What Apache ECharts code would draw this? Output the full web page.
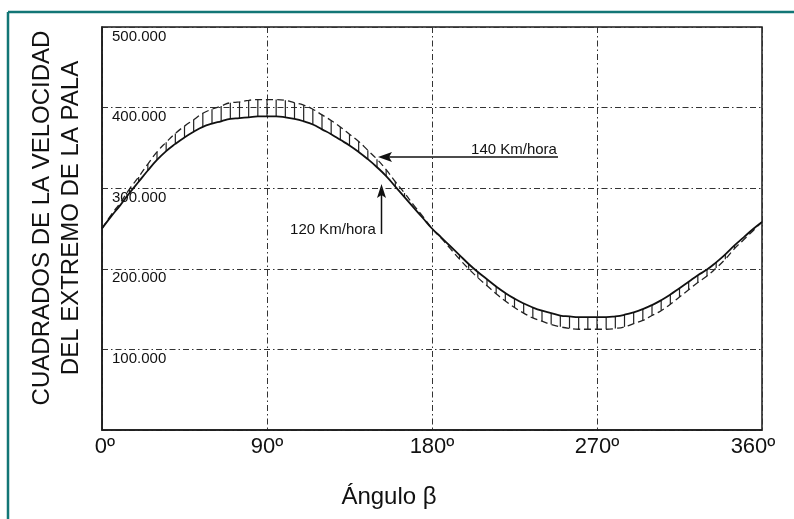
<!DOCTYPE html>
<html>
<head>
<meta charset="utf-8">
<script src="https://cdn.jsdelivr.net/npm/echarts@6/dist/echarts.min.js"></script>
<style>
html,body{margin:0;padding:0;background:#fff;}
#c{width:794px;height:519px;}
</style>
</head>
<body>
<div id="c"></div>
<script>
// Angle beta (degrees)
var angles = [0,5,10,15,20,25,30,35,40,45,50,55,60,65,70,75,80,85,90,
  95,100,105,110,115,120,125,130,135,140,145,150,155,160,165,170,175,180,
  185,190,195,200,205,210,215,220,225,230,235,240,245,250,255,260,265,270,
  275,280,285,290,295,300,305,310,315,320,325,330,335,340,345,350,355,360];
// Squared tip velocity (thousands), 120 Km/hora (solid)
var v120 = [250,265,279,294,308,322,335,346,355,363,370,376,380,383,386,387,388,389,389,
  389,388,386,383,379,373,367,360,353,345,336,326,315,302,289,276,263,250,
  239,228,217,206,196,187,178,170,163,157,152,148,145,142,141,140,140,140,
  140,141,143,146,150,155,161,168,176,184,192,199,208,218,229,239,249,258];
// Squared tip velocity (thousands), 140 Km/hora (dashed, hatched)
var v140 = [250,267,282,299,314,330,345,357,368,377,385,393,398,402,406,407,409,410,410,
  410,409,406,403,398,391,384,376,367,358,347,336,323,308,294,279,265,250,
  238,225,212,200,189,179,169,160,152,145,139,135,131,128,126,125,125,125,
  125,126,128,132,136,142,148,156,165,174,183,191,201,212,225,236,247,258];
var xTicks = [0,90,180,270,360];
var yTicks = [100,200,300,400,500];
var yTitle = ['CUADRADOS DE LA VELOCIDAD','DEL EXTREMO DE LA PALA'];
var xTitle = 'Ángulo β';
var label140 = '140 Km/hora';
var label120 = '120 Km/hora';

var s120 = angles.map(function(a,i){return [a, v120[i]];});
var s140 = angles.map(function(a,i){return [a, v140[i]];});
var hatch = [];
angles.forEach(function(a,i){ if (Math.abs(v140[i]-v120[i]) >= 4) hatch.push([a, v140[i], v120[i]]); });

var chart = echarts.init(document.getElementById('c'), null, {renderer:'canvas'});
var FONT = 'Liberation Sans, Arial, sans-serif';
var gridLine = {show:true, lineStyle:{color:'#333', width:1, type:[6,3,1.5,3]}};
chart.setOption({
  animation:false,
  backgroundColor:'#fff',
  grid:{left:102, top:27, right:32, bottom:89, show:true, borderColor:'#1a1a1a', borderWidth:1.5, backgroundColor:'transparent'},
  xAxis:{
    type:'value', min:0, max:360, interval:90,
    axisLine:{show:true, lineStyle:{color:'#1a1a1a', width:1.5}},
    axisTick:{show:false},
    splitLine:gridLine,
    axisLabel:{
      margin:6, fontFamily:FONT, fontSize:22, color:'#111',
      formatter:function(v){ return v===360 ? '{r|'+v+'º}' : (v===0 ? '{l|'+v+'º}' : v+'º'); },
      rich:{r:{fontFamily:FONT, fontSize:22, color:'#111', padding:[0,18,0,0]},
            l:{fontFamily:FONT, fontSize:22, color:'#111', padding:[0,0,0,6]}}
    }
  },
  yAxis:{
    type:'value', min:0, max:500, interval:100,
    axisLine:{show:true, lineStyle:{color:'#1a1a1a', width:1.5}},
    axisTick:{show:false},
    splitLine:gridLine,
    axisLabel:{
      inside:true, margin:10, fontFamily:FONT, fontSize:15, color:'#111',
      verticalAlign:'top', padding:[2,0,0,0],
      formatter:function(v){ return yTicks.indexOf(v)>=0 ? v+'.000' : ''; }
    }
  },
  series:[
    {type:'custom', renderItem:function(params, api){
        var p1 = api.coord([api.value(0), api.value(1)]);
        var p2 = api.coord([api.value(0), api.value(2)]);
        return {type:'line', shape:{x1:p1[0], y1:p1[1], x2:p2[0], y2:p2[1]},
          style:{stroke:'#222', lineWidth:1.2}};
      }, data:hatch, z:3, silent:true},
    {type:'line', data:s140, smooth:true, symbol:'none',
      lineStyle:{color:'#222', width:1.3, type:[7,4]}, z:4},
    {type:'line', data:s120, smooth:true, symbol:'none',
      lineStyle:{color:'#111', width:1.8}, z:5}
  ],
  graphic:[
    {type:'line', shape:{x1:8, y1:12, x2:794, y2:12}, style:{stroke:'#127676', lineWidth:2.5}},
    {type:'line', shape:{x1:8, y1:12, x2:8, y2:519}, style:{stroke:'#127676', lineWidth:2.5}},
    {type:'text', x:57, y:218, rotation:Math.PI/2,
      style:{text:yTitle.join('\n'), font:'24px '+FONT, fill:'#111', align:'center', verticalAlign:'middle', lineHeight:29}},
    {type:'text', x:389, y:497,
      style:{text:xTitle, font:'24px '+FONT, fill:'#111', align:'center', verticalAlign:'middle'}},
    // 140 Km/hora label with leader arrow
    {type:'text', x:514, y:150, style:{text:label140, font:'15px '+FONT, fill:'#111', align:'center', verticalAlign:'middle'}},
    {type:'line', shape:{x1:386, y1:157, x2:558, y2:157}, style:{stroke:'#111', lineWidth:1.5}},
    {type:'polygon', shape:{points:[[378,157],[392,152],[389,157],[392,162]]}, style:{fill:'#111'}},
    // 120 Km/hora label with leader arrow
    {type:'text', x:333, y:230, style:{text:label120, font:'15px '+FONT, fill:'#111', align:'center', verticalAlign:'middle'}},
    {type:'line', shape:{x1:381.5, y1:234, x2:381.5, y2:192}, style:{stroke:'#111', lineWidth:1.5}},
    {type:'polygon', shape:{points:[[381.5,184],[377,198],[381.5,195],[386,198]]}, style:{fill:'#111'}}
  ]
});
</script>
</body>
</html>
